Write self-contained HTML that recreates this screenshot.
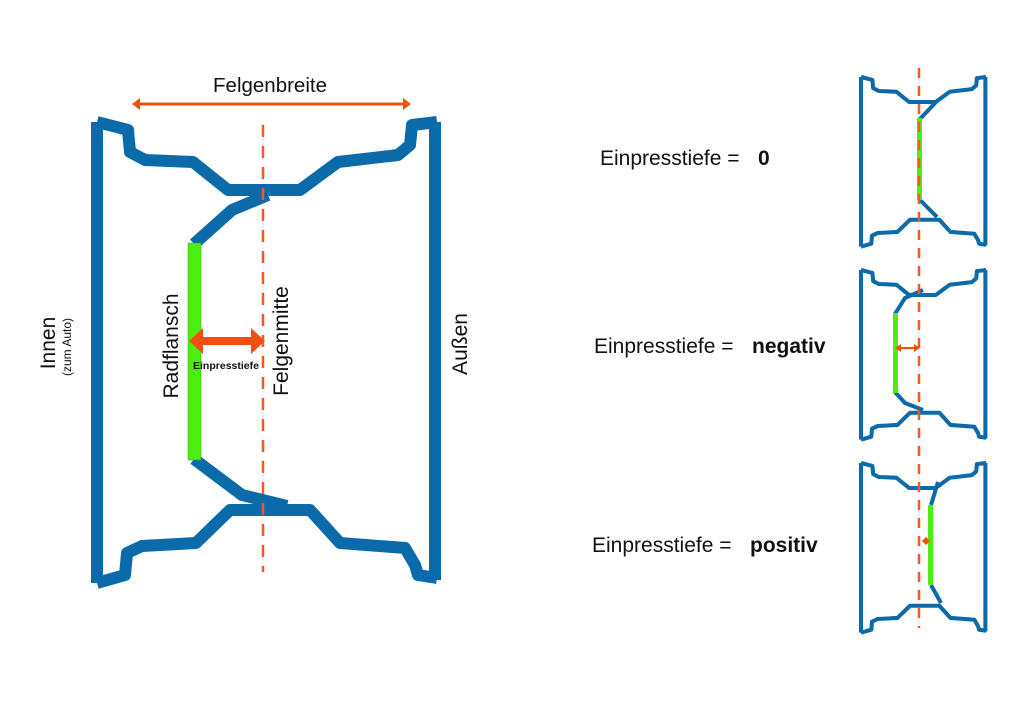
<!DOCTYPE html>
<html><head><style>body{margin:0;background:#fff}svg{display:block}</style></head><body>
<svg width="1024" height="719" viewBox="0 0 1024 719" xmlns="http://www.w3.org/2000/svg" font-family="Liberation Sans, Arial, sans-serif">
<defs>
<g id="rim">
<polyline fill="none" stroke="#0a6aaa" stroke-linejoin="round" points="0,0 31,8 33,30 48,38 96,40 131,68 203,68 241,40 301,33 313,23 315,3 340,0"/>
<polyline fill="none" stroke="#0a6aaa" stroke-linejoin="round" points="0,461 28,453 30,431 45,424 99,421 133,388 213,388 243,421 308,426 318,443 321,453 340,456"/>
<line x1="0" y1="0" x2="0" y2="461" stroke="#0a6aaa"/>
<line x1="338" y1="0" x2="338" y2="458" stroke="#0a6aaa"/>
</g>
</defs>
<g transform="translate(97,122)" stroke-width="12"><use href="#rim"/></g>
<polyline fill="none" stroke="#0a6aaa" stroke-width="12" points="268,195 232,210 194,244"/>
<polyline fill="none" stroke="#0a6aaa" stroke-width="12" points="194,459 242,495 287,506"/>
<rect x="188" y="243" width="13" height="217" fill="#4cf010" stroke="#3a9a20" stroke-width="0.5"/>
<line x1="263" y1="125" x2="263" y2="572" stroke="#f25a22" stroke-width="2.5" stroke-dasharray="12,9"/>
<line x1="138" y1="104" x2="405" y2="104" stroke="#f24f12" stroke-width="3"/>
<polygon points="132,104 140,98 140,110" fill="#f24f12"/>
<polygon points="411,104 403,98 403,110" fill="#f24f12"/>
<text x="270" y="92" font-size="20.5" text-anchor="middle" fill="#111">Felgenbreite</text>
<polygon points="189,341 203,328 203,337 251,337 251,328 265,341 251,354 251,345 203,345 203,354" fill="#f24f12"/>
<text x="226" y="369" font-size="10.5" font-weight="bold" text-anchor="middle" fill="#111">Einpresstiefe</text>
<text transform="translate(178,346) rotate(-90)" font-size="21" text-anchor="middle" fill="#111">Radflansch</text>
<text transform="translate(288,341) rotate(-90)" font-size="21" text-anchor="middle" fill="#111">Felgenmitte</text>
<text transform="translate(55,343) rotate(-90)" font-size="21" text-anchor="middle" fill="#111">Innen</text>
<text transform="translate(71,347) rotate(-90)" font-size="12" text-anchor="middle" fill="#111">(zum Auto)</text>
<text transform="translate(467,344) rotate(-90)" font-size="21" text-anchor="middle" fill="#111">Außen</text>
<text x="600" y="165" font-size="21" fill="#111">Einpresstiefe =<tspan x="758" font-weight="bold">0</tspan></text>
<text x="594" y="353" font-size="21" fill="#111">Einpresstiefe =<tspan x="752" font-weight="bold">negativ</tspan></text>
<text x="592" y="552" font-size="21" fill="#111">Einpresstiefe =<tspan x="750" font-weight="bold">positiv</tspan></text>
<g transform="translate(861,77) scale(0.368)" stroke-width="11"><use href="#rim"/></g>
<g transform="translate(861,270) scale(0.368)" stroke-width="11"><use href="#rim"/></g>
<g transform="translate(861,463) scale(0.368)" stroke-width="11"><use href="#rim"/></g>
<g stroke="#0a6aaa" stroke-width="4" fill="none">
<polyline points="937,101 919,120"/><polyline points="919,199 937,217"/>
<polyline points="923,290 905,298 895,314"/><polyline points="895,392 905,403 923,410"/>
<polyline points="938,482 931,505"/><polyline points="931,585 941,603"/>
</g>
<rect x="917" y="118" width="5" height="82" fill="#4cf010"/>
<rect x="893" y="313" width="5" height="80" fill="#4cf010"/>
<rect x="928" y="505" width="5" height="80" fill="#4cf010"/>
<line x1="919" y1="68" x2="919" y2="628" stroke="#f25a22" stroke-width="2.5" stroke-dasharray="10,8"/>
<line x1="898" y1="348" x2="917" y2="348" stroke="#f24f12" stroke-width="2"/>
<polygon points="895,348 901,344 901,352" fill="#f24f12"/>
<polygon points="920,348 914,344 914,352" fill="#f24f12"/>
<polygon points="922,541 926,537 930,541 926,545" fill="#f24f12"/>
</svg>
</body></html>
